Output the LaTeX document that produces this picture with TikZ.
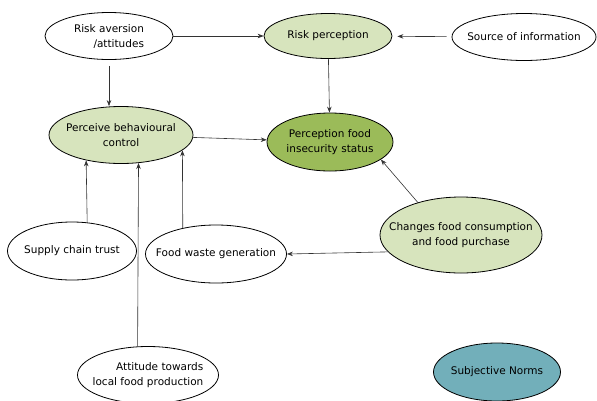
\documentclass[tikz,border=0pt]{standalone}
\usepackage{fontspec}
\setmainfont{DejaVu Sans}
\usetikzlibrary{shapes,arrows,arrows.meta,positioning,calc}

\definecolor{lightgreen}{HTML}{D7E4BD}
\definecolor{darkgreen}{HTML}{9BBB59}
\definecolor{normsblue}{HTML}{72AFBA}

\begin{document}
\begin{tikzpicture}[x=1pt, y=-1pt]
\tikzstyle{factor} = [ellipse, draw, thick, fill=white, inner ysep=0pt, inner xsep=-30pt, text centered, font=\fontsize{10.5}{15}\selectfont]
\tikzstyle{mid} = [factor, fill=lightgreen]
\tikzstyle{outcome} = [factor, fill=darkgreen]
\tikzstyle{norms} = [factor, fill=normsblue]
\tikzstyle{arrow} = [->, >={Stealth[length=6pt, width=4.5pt]}, draw=black!80, line width=0.6pt]

\useasboundingbox (0,0) rectangle (597,400);

\node [factor, minimum width=128pt, minimum height=47pt, align=right] (aversion) at (109,36) {Risk aversion\\/attitudes};
\node [mid, minimum width=128pt, minimum height=45pt] (riskperc) at (328,36) {Risk perception};
\node [factor, minimum width=144pt, minimum height=47pt] (source) at (524,37) {Source of information};
\node [mid, minimum width=144pt, minimum height=57pt, align=center] (control) at (121,135) {Perceive behavioural\\control};
\node [outcome, minimum width=126pt, minimum height=58pt, align=center] (status) at (330,142) {Perception food\\insecurity status};
\node [mid, minimum width=162pt, minimum height=76pt, align=center] (changes) at (461,235) {Changes food consumption\\and food purchase};
\node [factor, minimum width=141pt, minimum height=58pt] (waste) at (216,254) {Food waste generation};
\node [factor, minimum width=129pt, minimum height=58pt] (trust) at (72,251) {Supply chain trust};
\node [factor, minimum width=141pt, minimum height=57pt, align=right] (local) at (148,375) {Attitude towards\\local food production};
\node [norms, minimum width=127pt, minimum height=58pt] (norms) at (497,372) {Subjective Norms};

\draw [arrow] (aversion) -- (riskperc);
\draw [arrow, shorten <=5pt, shorten >=5pt] (source) -- (riskperc);
\draw [arrow] (riskperc) -- (status);
\draw [arrow, shorten <=6pt] (aversion.south) -- (aversion.south |- control.north);
\draw [arrow] (control) -- (status);
\draw [arrow] (changes.143) -- (status.-19);
\draw [arrow] (changes.193) -- (waste.east);
\draw [arrow] (trust.62) -- (control.216);
\draw [arrow] (local.110) -- (control.-58);
\draw [arrow] (waste.142) -- (control.-14);
\end{tikzpicture}
\end{document}
